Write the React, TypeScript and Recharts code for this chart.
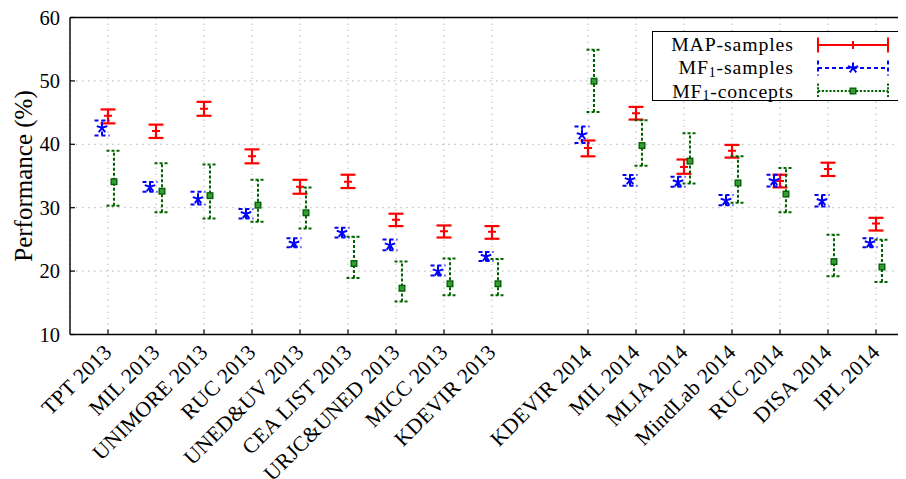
import React from 'react';
import { ScatterChart, Scatter, XAxis, YAxis, CartesianGrid, ErrorBar, ReferenceLine } from 'recharts';

const categories = [
  'TPT 2013', 'MIL 2013', 'UNIMORE 2013', 'RUC 2013', 'UNED&UV 2013', 'CEA LIST 2013',
  'URJC&UNED 2013', 'MICC 2013', 'KDEVIR 2013', 'KDEVIR 2014', 'MIL 2014', 'MLIA 2014',
  'MindLab 2014', 'RUC 2014', 'DISA 2014', 'IPL 2014',
];

const mapMean = [44.5, 42.1, 45.6, 38.1, 33.3, 34.1, 28.1, 26.3, 26.2, 39.4, 44.9, 36.4, 39.0, 34.2, 36.1, 27.5];
const mapLow = [43.3, 41.0, 44.5, 37.0, 32.2, 33.1, 27.1, 25.3, 25.1, 38.1, 43.9, 35.35, 37.9, 33.2, 35.0, 26.4];
const mapHigh = [45.5, 43.1, 46.7, 39.2, 34.4, 35.2, 29.05, 27.2, 27.1, 40.6, 45.9, 37.6, 39.9, 35.2, 37.1, 28.4];

const mfSamplesMean = [42.6, 33.3, 31.4, 29.05, 24.4, 26.1, 24.1, 20.0, 22.3, 41.5, 34.4, 34.05, 31.15, 34.25, 31.1, 24.45];
const mfSamplesLow = [41.4, 32.5, 30.5, 28.3, 23.75, 25.3, 23.3, 19.3, 21.6, 40.2, 33.45, 33.3, 30.4, 33.35, 30.2, 23.75];
const mfSamplesHigh = [43.75, 34.05, 32.5, 29.8, 25.2, 26.85, 25.0, 20.9, 23.0, 42.8, 35.15, 34.9, 32.0, 35.2, 32.0, 25.2];

const mfConceptsMean = [34.1, 32.6, 31.9, 30.4, 29.2, 21.2, 17.3, 18.0, 18.0, 49.95, 39.8, 37.35, 33.9, 32.15, 21.5, 20.65];
const mfConceptsLow = [30.3, 29.3, 28.3, 27.8, 26.7, 18.9, 15.2, 16.2, 16.2, 45.1, 36.6, 33.8, 30.8, 29.3, 19.2, 18.3];
const mfConceptsHigh = [39.0, 37.0, 36.8, 34.4, 33.2, 25.4, 21.5, 22.0, 21.9, 54.9, 43.8, 41.75, 38.1, 36.25, 25.75, 24.95];

const yTicks = [10, 20, 30, 40, 50, 60];
// [prefix, subscript, suffix]
const seriesNameParts: [string, string, string][] = [
  ['MAP-samples', '', ''],
  ['MF', '1', '-samples'],
  ['MF', '1', '-concepts'],
];
const seriesNames = seriesNameParts.map((p) => p.join(''));

const RED = '#ff0000';
const BLUE = '#0000ff';
const GREEN = '#006400';
const FONT = '"Liberation Serif", "Times New Roman", serif';

// slot positions: one empty slot between years
const slots: number[] = (() => {
  const out: number[] = [];
  let s = 0;
  let prev = '';
  categories.forEach((c) => {
    const yr = c.slice(-4);
    s += prev && yr !== prev ? 2 : 1;
    prev = yr;
    out.push(s);
  });
  return out;
})();

const build = (mean: number[], low: number[], high: number[], offset: number) =>
  mean.map((m, i) => ({ x: slots[i] + offset, y: m, err: [m - low[i], high[i] - m] }));

const mapData = build(mapMean, mapLow, mapHigh, 0);
const mfSamplesData = build(mfSamplesMean, mfSamplesLow, mfSamplesHigh, -0.125);
const mfConceptsData = build(mfConceptsMean, mfConceptsLow, mfConceptsHigh, 0.125);

const RedMark = (p: any) => (
  <line x1={p.cx - 4} x2={p.cx + 4} y1={p.cy} y2={p.cy} stroke={RED} strokeWidth={2} />
);

const starPath = (cx: number, cy: number, r: number) => {
  let d = '';
  for (let k = 0; k < 5; k++) {
    const a = -Math.PI / 2 + (k * 2 * Math.PI) / 5;
    d += `M${cx},${cy}L${cx + r * Math.cos(a)},${cy + r * Math.sin(a)}`;
  }
  return d;
};

const BlueMark = (p: any) => (
  <path d={starPath(p.cx, p.cy, 5.5)} stroke={BLUE} strokeWidth={2} fill="none" />
);

const GreenMark = (p: any) => (
  <rect x={p.cx - 2.8} y={p.cy - 2.8} width={5.6} height={5.6} fill="#3a9a3a" stroke={GREEN} strokeWidth={1.4} />
);

const XTick = (p: any) => {
  const { x, y, payload } = p;
  const idx = slots.indexOf(payload.value);
  const label = idx >= 0 ? categories[idx] : '';
  const ax = x + 5;
  const ay = y + 19;
  return (
    <g>
      <line x1={x} x2={x} y1={y} y2={y - 5} stroke="#000" strokeWidth={1.2} />
      <text
        x={ax}
        y={ay}
        transform={`rotate(-45, ${ax}, ${ay})`}
        textAnchor="end"
        fontFamily={FONT}
        fontSize={21.5}
        letterSpacing={0.3}
        fill="#000"
      >
        {label}
      </text>
    </g>
  );
};

const YTick = (p: any) => {
  const { x, y, payload } = p;
  return (
    <g>
      <line x1={x} x2={x + 5} y1={y} y2={y} stroke="#000" strokeWidth={1.2} />
      <text x={x - 10} y={y} textAnchor="end" dominantBaseline="central" fontFamily={FONT} fontSize={20.5} fill="#000">
        {payload.value}
      </text>
    </g>
  );
};

const YLabel = () => (
  <text
    x={15.5}
    y={168}
    transform="rotate(-90, 15.5, 168)"
    textAnchor="middle"
    dominantBaseline="central"
    fontFamily={FONT}
    fontSize={25}
    fill="#000"
  >
    Performance (%)
  </text>
);

const LegendSample = ({ kind }: { kind: number }) => {
  const color = [RED, BLUE, GREEN][kind];
  const dash = [undefined, '4 3', '2.2 1.6'][kind];
  return (
    <svg width={74} height={18} style={{ display: 'block' }}>
      <line x1={2} x2={72} y1={9} y2={9} stroke={color} strokeWidth={2} strokeDasharray={dash} />
      <line x1={2} x2={2} y1={1.5} y2={16.5} stroke={color} strokeWidth={2} strokeDasharray={dash} />
      <line x1={72} x2={72} y1={1.5} y2={16.5} stroke={color} strokeWidth={2} strokeDasharray={dash} />
      {kind === 0 && <line x1={37} x2={37} y1={5} y2={13} stroke={RED} strokeWidth={2} />}
      {kind === 1 && <path d={starPath(37, 9, 5.5)} stroke={BLUE} strokeWidth={2} fill="none" />}
      {kind === 2 && (
        <rect x={34.2} y={6.2} width={5.6} height={5.6} fill="#3a9a3a" stroke={GREEN} strokeWidth={1.4} />
      )}
    </svg>
  );
};

const rowCenters = [12.5, 35.8, 59];

const Legend = () => (
  <div
    style={{
      position: 'absolute',
      left: 643.7,
      top: 23,
      width: 247,
      height: 70,
      boxSizing: 'border-box',
      border: '1.3px solid #000',
      background: '#fff',
      fontFamily: FONT,
      fontSize: 19.8,
      letterSpacing: 0.85,
    }}
  >
    {seriesNameParts.map((parts, i) => (
      <React.Fragment key={seriesNames[i]}>
        <div
          style={{
            position: 'absolute',
            right: 104,
            top: rowCenters[i] - 10.5,
            height: 21,
            lineHeight: '21px',
            whiteSpace: 'nowrap',
            textAlign: 'right',
          }}
        >
          {parts[0]}
          {parts[1] && (
            <span style={{ fontSize: '70%', position: 'relative', top: '0.2em', lineHeight: 0 }}>{parts[1]}</span>
          )}
          {parts[2]}
        </div>
        <div style={{ position: 'absolute', left: 163, top: rowCenters[i] - 9 }}>
          <LegendSample kind={i} />
        </div>
      </React.Fragment>
    ))}
  </div>
);

export default function App() {
  return (
    <div style={{ position: 'relative', width: 898, height: 471 }}>
      <ScatterChart width={898} height={471} margin={{ top: 9.5, right: 0, bottom: 0, left: 12 }}>
        <CartesianGrid stroke="#b4b4b4" strokeDasharray="1.5 4.5" strokeWidth={1} />
        <XAxis
          type="number"
          dataKey="x"
          domain={[0.2083, 17.625]}
          ticks={slots}
          interval={0}
          allowDataOverflow
          height={144.5}
          tickSize={0}
          tickMargin={0}
          tickLine={false}
          tick={<XTick />}
          axisLine={{ stroke: '#000', strokeWidth: 1.4 }}
        />
        <YAxis
          type="number"
          dataKey="y"
          domain={[10, 60]}
          ticks={yTicks}
          interval={0}
          allowDataOverflow
          width={50}
          tickSize={0}
          tickMargin={0}
          tickLine={false}
          tick={<YTick />}
          axisLine={{ stroke: '#000', strokeWidth: 1.4 }}
          label={{ content: () => <YLabel /> }}
        />
        <ReferenceLine y={60} stroke="#000" strokeWidth={1.4} />
        <Scatter name={seriesNames[0]} data={mapData} shape={RedMark} isAnimationActive={false}>
          <ErrorBar dataKey="err" direction="y" width={7.5} stroke={RED} strokeWidth={2.2} isAnimationActive={false} />
        </Scatter>
        <Scatter name={seriesNames[1]} data={mfSamplesData} shape={BlueMark} isAnimationActive={false}>
          <ErrorBar
            dataKey="err"
            direction="y"
            width={7.5}
            stroke={BLUE}
            strokeWidth={2}
            strokeDasharray="4 3"
            isAnimationActive={false}
          />
        </Scatter>
        <Scatter name={seriesNames[2]} data={mfConceptsData} shape={GreenMark} isAnimationActive={false}>
          <ErrorBar
            dataKey="err"
            direction="y"
            width={7.5}
            stroke={GREEN}
            strokeWidth={2}
            strokeDasharray="3 2"
            isAnimationActive={false}
          />
        </Scatter>
      </ScatterChart>
      <Legend />
    </div>
  );
}
